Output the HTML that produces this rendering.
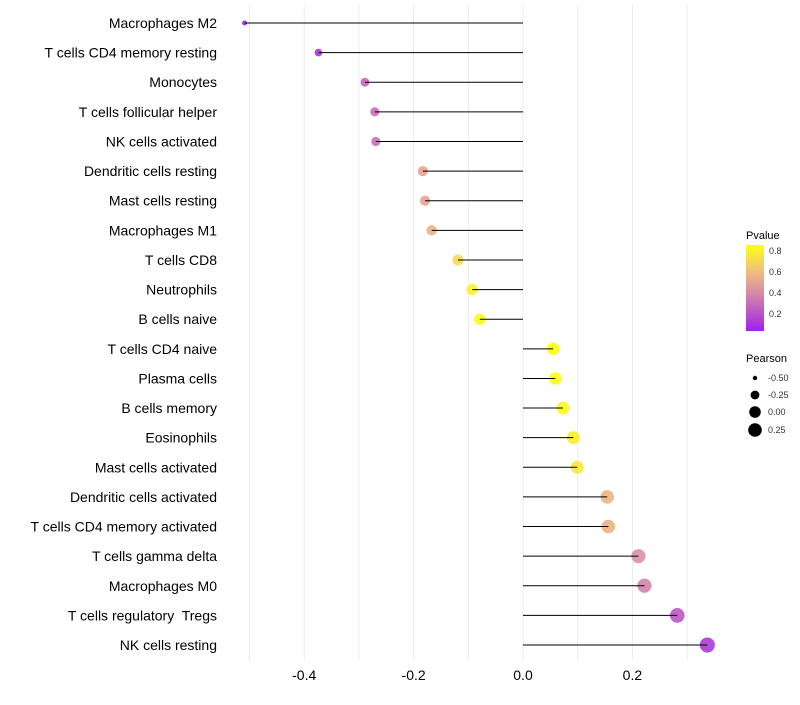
<!DOCTYPE html>
<html><head><meta charset="utf-8"><style>
body{margin:0;background:#fff;font-family:"Liberation Sans",sans-serif}
svg text{font-family:"Liberation Sans",sans-serif;white-space:pre}
</style></head><body>
<svg id="chart" width="800" height="700"></svg>
<script>
const categories=["Macrophages M2","T cells CD4 memory resting","Monocytes","T cells follicular helper","NK cells activated","Dendritic cells resting","Mast cells resting","Macrophages M1","T cells CD8","Neutrophils","B cells naive","T cells CD4 naive","Plasma cells","B cells memory","Eosinophils","Mast cells activated","Dendritic cells activated","T cells CD4 memory activated","T cells gamma delta","Macrophages M0","T cells regulatory  Tregs","NK cells resting"];
const pearson=[-0.509,-0.374,-0.289,-0.271,-0.269,-0.183,-0.179,-0.167,-0.119,-0.093,-0.079,0.055,0.059,0.073,0.092,0.099,0.154,0.156,0.211,0.222,0.282,0.337];
const pvalue=[0.05,0.1,0.27,0.3,0.3,0.5,0.5,0.55,0.7,0.8,0.83,0.86,0.86,0.82,0.78,0.76,0.56,0.55,0.42,0.37,0.22,0.12];
const xTicks=[-0.4,-0.2,0.0,0.2];
const xTickLabels=["-0.4","-0.2","0.0","0.2"];
const NS="http://www.w3.org/2000/svg";
const svg=document.getElementById('chart');
function x(v){return 523+v*547;}
function y(i){return 23+i*29.62;}
function r(v){return Math.sqrt(Math.max(1,37+60*v));}
function lerp(a,b,t){return a.map((c,k)=>Math.round(c+(b[k]-c)*t));}
const stops=[[0.03,[160,32,240]],[0.2,[186,80,200]],[0.4,[216,140,166]],[0.6,[240,192,122]],[0.85,[255,255,20]]];
function color(p){p=Math.max(0.03,Math.min(0.85,p));for(let k=0;k<stops.length-1;k++){if(p<=stops[k+1][0]){const t=(p-stops[k][0])/(stops[k+1][0]-stops[k][0]);return 'rgb('+lerp(stops[k][1],stops[k+1][1],t).join(',')+')';}}return 'rgb(255,255,20)';}
function el(t,a){const e=document.createElementNS(NS,t);for(const k in a)e.setAttribute(k,a[k]);svg.appendChild(e);return e;}
for(let v=-0.5;v<=0.31;v+=0.1){const g=el('line',{x1:x(v),x2:x(v),y1:5,y2:660,stroke:'#ebebeb','stroke-width':1});

}
xTicks.forEach((v,i)=>{const t=el('text',{x:x(v),y:680,'text-anchor':'middle','font-size':14,fill:'#000'});t.textContent=xTickLabels[i];

});
categories.forEach((c,i)=>{
const t=el('text',{x:217,y:y(i)+5,'text-anchor':'end','font-size':14,fill:'#000'});t.textContent=c;


const d=el('circle',{cx:x(pearson[i]),cy:y(i),r:r(pearson[i]),fill:color(pvalue[i]),'fill-opacity':0.9});


const l=el('line',{x1:x(0),x2:x(pearson[i]),y1:y(i),y2:y(i),stroke:'#000','stroke-width':1});


});
</script>
<svg width="800" height="700" style="position:absolute;left:0;top:0">
<defs><linearGradient id="pg" x1="0" y1="0" x2="0" y2="1">
<stop offset="0" stop-color="#ffff14"/><stop offset="0.3" stop-color="#f0c07a"/><stop offset="0.55" stop-color="#d88ca6"/><stop offset="0.8" stop-color="#ba50c8"/><stop offset="1" stop-color="#a020f0"/></linearGradient></defs>
<text x="746" y="239" font-size="11">Pvalue</text>
<rect x="746" y="245" width="18" height="86" fill="url(#pg)"/>
<g font-size="9" fill="#333">
<text x="769" y="254">0.8</text><text x="769" y="275">0.6</text><text x="769" y="296">0.4</text><text x="769" y="317">0.2</text></g>
<text x="746" y="362" font-size="11">Pearson</text>
<g>
<circle cx="755" cy="378" r="2.2"/><circle cx="755" cy="395" r="4.4"/><circle cx="755" cy="412" r="5.8"/><circle cx="755" cy="430" r="6.8"/></g>
<g font-size="9" fill="#333">
<text x="768" y="381">-0.50</text><text x="768" y="398">-0.25</text><text x="768" y="415">0.00</text><text x="768" y="433">0.25</text></g>
</svg>
</body></html>
